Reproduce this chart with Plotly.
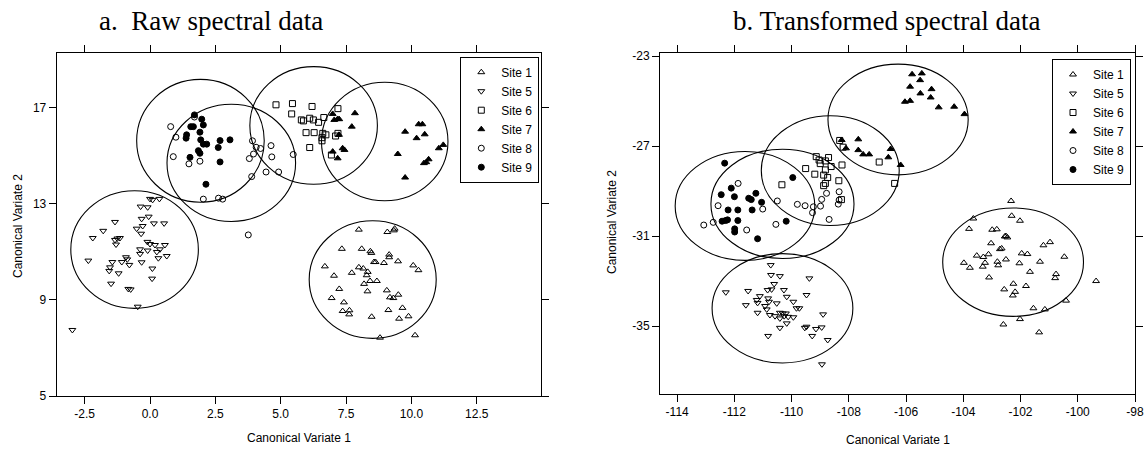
import plotly.graph_objects as go

W, H = 1145, 449

# ---------------- data ----------------
site_names = ["Site 1", "Site 5", "Site 6", "Site 7", "Site 8", "Site 9"]

# panel a: raw spectral data
raw_s1_x = [7.99, 9.08, 9.33, 9.36, 7.34, 8.10, 8.43, 8.47, 8.57, 8.63, 9.15, 9.15, 9.49, 8.95, 6.69, 7.99,
            8.16, 7.72, 8.33, 8.29, 7.04, 10.07, 10.27, 7.24, 8.19, 8.42, 8.68, 8.32, 6.95, 9.06, 9.50, 9.18,
            9.31, 7.42, 7.37, 7.63, 7.62, 8.48, 9.12, 9.66, 9.89, 9.53, 8.80, 10.14]
raw_s1_y = [11.93, 11.83, 11.90, 11.97, 11.13, 11.13, 11.03, 10.96, 10.58, 10.58, 10.89, 10.78, 10.61, 10.54,
            10.40, 10.36, 10.31, 10.13, 10.17, 10.03, 10.01, 10.44, 10.24, 9.46, 9.67, 9.79, 9.79, 9.36, 9.08,
            9.40, 9.22, 9.11, 9.08, 8.90, 8.54, 8.57, 8.40, 8.30, 8.58, 8.67, 8.32, 8.22, 7.43, 7.53]

raw_s5_x = [0.00, 0.10, 0.36, -0.36, -0.09, -0.32, -0.05, -1.34, 0.15, 0.54, -0.51, -0.28, -1.79, -0.34,
            -2.19, -1.34, -1.25, -1.15, -1.30, -0.10, 0.00, 0.19, 0.57, 0.38, -0.09, -0.38, -0.38, 0.26, 0.64,
            0.32, -2.36, -1.44, -1.08, -0.92, -0.87, -0.79, -1.53, -1.56, -0.32, 0.09, -1.20, 0.08, -1.49,
            -0.83, -0.74, -0.47, -2.97]
raw_s5_y = [13.21, 13.17, 13.21, 12.89, 12.86, 12.38, 12.47, 12.25, 12.19, 12.19, 11.97, 12.08, 11.88, 11.76,
            11.58, 11.50, 11.56, 11.58, 11.31, 11.42, 11.33, 11.29, 11.29, 11.11, 11.06, 11.11, 10.92, 11.00,
            10.83, 10.74, 10.64, 10.58, 10.58, 10.78, 10.69, 10.46, 10.36, 10.21, 10.57, 10.31, 10.11, 9.89,
            9.68, 9.46, 9.44, 8.72, 7.75]

raw_s6_x = [4.82, 5.45, 6.20, 5.42, 5.79, 5.87, 6.11, 6.25, 6.45, 6.65, 7.19, 5.97, 6.28, 6.61, 6.73, 6.58,
            6.58, 7.10, 7.19, 6.11, 6.94]
raw_s6_y = [17.13, 17.18, 17.06, 16.75, 16.50, 16.46, 16.57, 16.50, 16.40, 16.60, 16.97, 15.97, 15.97, 15.94,
            15.88, 15.76, 15.63, 15.83, 15.94, 15.35, 15.04]

raw_s7_x = [6.99, 7.05, 7.18, 7.24, 7.84, 7.72, 7.23, 7.37, 7.44, 6.99, 7.18, 9.76, 10.20, 10.51, 10.28,
            10.42, 9.48, 9.76, 10.48, 10.57, 10.66, 11.05, 11.22]
raw_s7_y = [16.75, 16.50, 16.54, 16.53, 16.78, 16.22, 15.88, 15.32, 15.25, 15.18, 14.90, 16.01, 15.74, 15.90,
            16.32, 16.32, 15.08, 14.10, 14.70, 14.74, 14.86, 15.32, 15.46]

raw_s8_x = [0.79, 0.99, 1.70, 0.89, 1.49, 1.91, 3.92, 4.06, 4.23, 3.96, 3.80, 4.63, 4.66, 5.48, 4.44, 4.92,
            3.89, 2.04, 2.62, 2.78, 3.76]
raw_s8_y = [16.22, 15.78, 16.62, 14.97, 14.67, 14.78, 15.63, 15.36, 15.31, 15.08, 14.89, 15.43, 14.96, 15.06,
            14.33, 14.33, 14.14, 13.20, 13.24, 13.20, 11.71]

raw_s9_x = [1.70, 1.98, 2.04, 1.56, 1.66, 1.40, 1.38, 1.91, 1.94, 2.04, 2.17, 1.85, 1.91, 2.68, 3.06, 2.61,
            1.53, 2.68, 2.14]
raw_s9_y = [16.71, 16.53, 16.29, 16.22, 16.22, 15.88, 15.74, 15.99, 15.67, 15.49, 15.49, 15.22, 15.11, 15.64,
            15.67, 15.35, 14.94, 14.75, 13.82]

# group ellipses (order: Site 1, 5, 6, 7, 8, 9)
raw_ell_cx = [8.52, -0.59, 6.26, 8.98, 3.11, 1.93]
raw_ell_cy = [9.85, 11.10, 16.27, 15.60, 14.71, 15.63]
raw_ell_rx = [2.43, 2.44, 2.44, 2.42, 2.46, 2.44]
raw_ell_ry = [2.45, 2.45, 2.45, 2.47, 2.44, 2.56]

# panel b: transformed spectral data
trn_s1_x = [-102.33, -103.65, -102.31, -102.02, -103.80, -102.99, -102.83, -102.51, -102.46, -102.55,
            -103.03, -102.72, -102.66, -101.96, -101.76, -101.20, -100.97, -100.47, -103.53, -103.30,
            -103.12, -103.98, -103.77, -103.32, -103.24, -102.81, -102.78, -102.51, -102.04, -101.32,
            -101.67, -100.76, -100.79, -99.36, -103.10, -102.25, -101.81, -102.57, -102.19, -102.27,
            -100.41, -101.55, -101.15, -102.02, -102.60, -101.35]
trn_s1_y = [-29.44, -30.22, -30.10, -30.32, -30.68, -30.72, -30.70, -31.00, -31.06, -31.02, -31.32, -31.58,
            -31.55, -31.77, -31.80, -31.41, -31.27, -31.92, -31.87, -31.93, -31.81, -32.19, -32.41, -32.36,
            -32.19, -32.14, -32.30, -32.04, -32.21, -32.14, -32.59, -32.69, -32.87, -33.00, -32.84, -33.12,
            -33.22, -33.37, -33.48, -33.64, -33.87, -34.21, -34.26, -34.69, -34.93, -35.28]

trn_s5_x = [-110.73, -110.72, -110.41, -109.38, -110.61, -110.84, -110.70, -112.30, -111.52, -110.27,
            -110.17, -109.48, -111.11, -111.22, -111.19, -110.82, -110.79, -111.60, -110.93, -110.87,
            -110.52, -109.94, -109.83, -109.73, -111.19, -110.76, -110.58, -110.41, -110.31, -110.20,
            -110.26, -110.12, -110.41, -109.94, -108.90, -110.17, -110.41, -109.54, -109.48, -109.15,
            -108.95, -109.28, -110.82, -108.74, -108.94]
trn_s5_y = [-32.29, -32.73, -32.78, -32.88, -33.13, -33.40, -33.37, -33.50, -33.44, -33.40, -33.70, -33.62,
            -33.67, -33.84, -33.97, -33.77, -33.92, -34.07, -34.11, -34.26, -33.99, -33.92, -34.21, -34.21,
            -34.41, -34.51, -34.56, -34.41, -34.44, -34.44, -34.56, -34.59, -34.66, -34.61, -34.48, -34.88,
            -35.08, -35.08, -35.03, -35.13, -35.06, -35.44, -35.44, -35.62, -36.70]

trn_s6_x = [-109.14, -109.04, -109.00, -108.82, -108.71, -109.51, -109.19, -108.82, -108.62, -108.24,
            -108.88, -108.74, -108.35, -108.82, -108.88, -108.26, -110.34, -108.32, -108.20, -106.94, -106.40]
trn_s6_y = [-27.47, -27.62, -27.78, -27.66, -27.51, -28.00, -28.25, -28.06, -27.91, -27.84, -28.29, -28.40,
            -28.54, -28.66, -28.76, -29.38, -28.72, -26.75, -27.05, -27.71, -28.66]

trn_s7_x = [-105.79, -105.45, -105.51, -105.86, -105.11, -105.50, -105.14, -106.04, -105.86, -104.86,
            -104.32, -103.96, -108.25, -108.10, -107.67, -107.67, -107.50, -107.29, -106.54, -106.62, -106.19]
trn_s7_y = [-23.81, -23.77, -24.07, -24.36, -24.47, -24.66, -24.84, -25.03, -24.99, -25.28, -25.25, -25.58,
            -26.73, -27.10, -26.70, -27.18, -27.37, -27.37, -27.13, -27.50, -27.84]

trn_s8_x = [-113.07, -112.74, -112.57, -111.87, -111.01, -111.57, -110.55, -110.50, -109.80, -109.53,
            -109.24, -109.27, -108.99, -108.95, -108.78, -108.34, -108.34, -108.37, -108.69]
trn_s8_y = [-30.51, -30.39, -29.65, -28.66, -29.80, -30.73, -30.48, -29.44, -29.59, -29.65, -29.70, -29.96,
            -29.67, -29.37, -29.10, -29.03, -29.40, -29.58, -30.26]

trn_s9_x = [-112.34, -109.96, -112.11, -112.46, -112.00, -111.25, -111.50, -111.41, -111.05, -112.22,
            -111.88, -111.38, -112.31, -112.43, -112.24, -111.88, -111.99, -111.99, -111.19, -110.19]
trn_s9_y = [-27.76, -28.40, -28.87, -29.16, -29.25, -29.10, -29.32, -29.38, -29.50, -29.84, -29.84, -29.84,
            -30.31, -30.34, -30.28, -30.31, -30.68, -30.82, -31.12, -30.34]

trn_ell_cx = [-102.26, -110.32, -108.65, -106.28, -110.32, -111.63]
trn_ell_cy = [-32.16, -34.21, -28.09, -25.82, -29.57, -29.66]
trn_ell_rx = [2.46, 2.46, 2.41, 2.45, 2.50, 2.44]
trn_ell_ry = [2.41, 2.43, 2.44, 2.46, 2.43, 2.42]

# tick labels
raw_xticks = [-2.5, 0.0, 2.5, 5.0, 7.5, 10.0, 12.5]
raw_xtext = ["-2.5", "0.0", "2.5", "5.0", "7.5", "10.0", "12.5"]
raw_yticks = [5, 9, 13, 17]
raw_ytext = ["5", "9", "13", "17"]
trn_xticks = [-114, -112, -110, -108, -106, -104, -102, -100, -98]
trn_xtext = ["-114", "-112", "-110", "-108", "-106", "-104", "-102", "-100", "-98"]
trn_yticks = [-35, -31, -27, -23]
trn_ytext = ["-35", "-31", "-27", "-23"]

# ---------------- styles ----------------
symbols = ["triangle-up-open", "triangle-down-open", "square-open", "triangle-up", "circle-open", "circle"]
SANS = "Liberation Sans, Arial, sans-serif"
SERIF = "Liberation Serif, Times New Roman, serif"

raw_sets = [(raw_s1_x, raw_s1_y), (raw_s5_x, raw_s5_y), (raw_s6_x, raw_s6_y),
            (raw_s7_x, raw_s7_y), (raw_s8_x, raw_s8_y), (raw_s9_x, raw_s9_y)]
trn_sets = [(trn_s1_x, trn_s1_y), (trn_s5_x, trn_s5_y), (trn_s6_x, trn_s6_y),
            (trn_s7_x, trn_s7_y), (trn_s8_x, trn_s8_y), (trn_s9_x, trn_s9_y)]

fig = go.Figure()


def marker(sym):
    return dict(symbol=sym, size=6, color="black", line=dict(color="black", width=1))


for name, sym, (xs, ys) in zip(site_names, symbols, raw_sets):
    fig.add_trace(go.Scatter(x=xs, y=ys, mode="markers", name=name, marker=marker(sym),
                             xaxis="x", yaxis="y", legend="legend"))
for name, sym, (xs, ys) in zip(site_names, symbols, trn_sets):
    fig.add_trace(go.Scatter(x=xs, y=ys, mode="markers", name=name, marker=marker(sym),
                             xaxis="x2", yaxis="y2", legend="legend2"))

shapes = []
for cx, cy, rx, ry in zip(raw_ell_cx, raw_ell_cy, raw_ell_rx, raw_ell_ry):
    shapes.append(dict(type="circle", xref="x", yref="y", x0=cx - rx, x1=cx + rx, y0=cy - ry, y1=cy + ry,
                       line=dict(color="black", width=1.1)))
for cx, cy, rx, ry in zip(trn_ell_cx, trn_ell_cy, trn_ell_rx, trn_ell_ry):
    shapes.append(dict(type="circle", xref="x2", yref="y2", x0=cx - rx, x1=cx + rx, y0=cy - ry, y1=cy + ry,
                       line=dict(color="black", width=1.1)))


def px(v):
    return v / W


def py(v):
    return 1 - v / H


axis_common = dict(showgrid=False, zeroline=False, showline=True, linecolor="black", linewidth=1,
                   mirror="ticks", ticks="outside", ticklen=7, tickwidth=1, tickcolor="black",
                   tickfont=dict(family=SANS, size=12, color="black"), automargin=False)

legend_common = dict(bgcolor="white", bordercolor="black", borderwidth=1,
                     font=dict(family=SANS, size=12, color="black"),
                     xanchor="right", yanchor="top", tracegroupgap=0)


def label(text, x, y, font, angle=0):
    return dict(text=text, x=px(x), y=py(y), xref="paper", yref="paper", xanchor="center",
                yanchor="middle", textangle=angle, showarrow=False, font=font)


title_font = dict(family=SERIF, size=27, color="black")
axis_font = dict(family=SANS, size=12, color="black")

fig.update_layout(
    width=W, height=H,
    margin=dict(l=0, r=0, t=0, b=0, pad=0),
    paper_bgcolor="white", plot_bgcolor="white",
    xaxis=dict(domain=[px(56.7), px(540.5)], range=[-3.57, 14.94], tickvals=raw_xticks, ticktext=raw_xtext,
               anchor="y", **axis_common),
    yaxis=dict(domain=[py(396), py(52.7)], range=[5.0, 19.3], tickvals=raw_yticks, ticktext=raw_ytext,
               anchor="x", **axis_common),
    xaxis2=dict(domain=[px(660), px(1135)], range=[-114.6, -98.0], tickvals=trn_xticks, ticktext=trn_xtext,
                anchor="y2", **axis_common),
    yaxis2=dict(domain=[py(394), py(52.7)], range=[-38.02, -22.85], tickvals=trn_yticks, ticktext=trn_ytext,
                anchor="x2", **axis_common),
    legend=dict(x=px(539.3), y=py(56.7), **legend_common),
    legend2=dict(x=px(1131), y=py(59), **legend_common),
    shapes=shapes,
    annotations=[
        label("a.\u00a0 Raw spectral data", 211, 21, title_font),
        label("b. Transformed spectral data", 886.6, 21, title_font),
        label("Canonical Variate 1", 298.6, 438, axis_font),
        label("Canonical Variate 1", 897.5, 440, axis_font),
        label("Canonical Variate 2", 18, 226, axis_font, -90),
        label("Canonical Variate 2", 612, 222, axis_font, -90),
    ],
    showlegend=True,
)

fig.write_html("out.html", config={"displayModeBar": False},
               post_script="document.body.style.margin='0';")
